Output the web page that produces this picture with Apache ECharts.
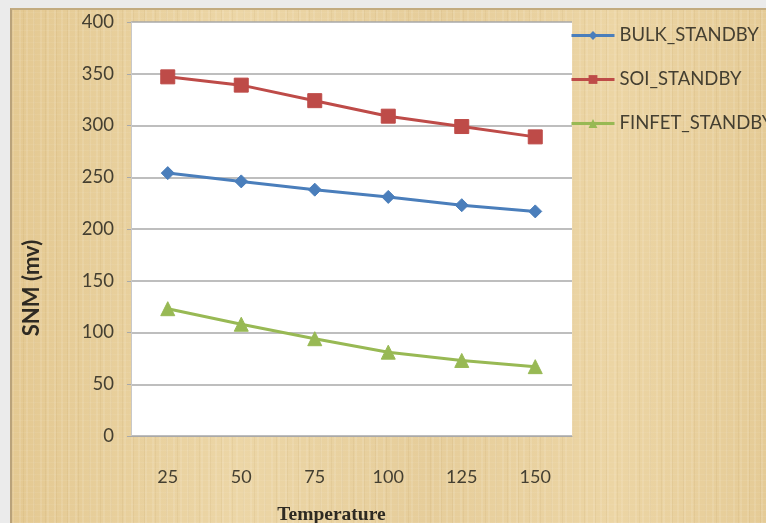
<!DOCTYPE html>
<html>
<head>
<meta charset="utf-8">
<script src="https://cdn.jsdelivr.net/npm/echarts@6/dist/echarts.min.js"></script>
<style>
  html, body { margin: 0; padding: 0; width: 766px; height: 523px; overflow: hidden; background: #ebebeb; }
  #paper {
    position: absolute; left: 10px; top: 8px; width: 756px; height: 515px;
    box-sizing: border-box; border-left: 2px solid #b9a27a; border-top: 2px solid #c2ab80;
    background-color: #e8d09e;
    background-image:
      repeating-linear-gradient(90deg, rgba(255,255,255,0.10) 0px, rgba(255,255,255,0.10) 2px, rgba(0,0,0,0) 2px, rgba(0,0,0,0) 7px),
      repeating-linear-gradient(90deg, rgba(150,110,40,0.07) 0px, rgba(150,110,40,0.07) 1px, rgba(0,0,0,0) 1px, rgba(0,0,0,0) 11px),
      repeating-linear-gradient(0deg, rgba(255,255,255,0.06) 0px, rgba(255,255,255,0.06) 1px, rgba(0,0,0,0) 1px, rgba(0,0,0,0) 6px),
      linear-gradient(90deg, #e4c992 0%, #ecd6a6 30%, #e6cd9a 55%, #ecd5a4 80%, #e5cb96 100%);
  }
  #chart { position: absolute; left: 0; top: 0; width: 766px; height: 523px; }
</style>
</head>
<body>
<div id="paper"></div>
<div id="chart"></div>
<script>
// Static noise margin versus temperature for three SRAM cell technologies
const temperatures = ['25', '50', '75', '100', '125', '150'];
const bulkStandby = [254, 246, 238, 231, 223, 217];
const soiStandby = [347, 339, 324, 309, 299, 289];
const finfetStandby = [123, 108, 94, 81, 73, 67];
const yTicks = { min: 0, max: 400, interval: 50 };

const labelColor = '#443f31';
const gridColor = '#a9a9a9';

const chart = echarts.init(document.getElementById('chart'), null, { renderer: 'canvas' });

function lineSeries(name, data, color, symbol, size) {
  return {
    name: name,
    type: 'line',
    data: data,
    symbol: symbol,
    symbolSize: size,
    showSymbol: true,
    lineStyle: { color: color, width: 3 },
    itemStyle: { color: color, borderColor: color },
    emphasis: { disabled: true },
    animation: false
  };
}

chart.setOption({
  backgroundColor: 'transparent',
  animation: false,
  grid: {
    left: 131, right: 194, top: 22, bottom: 87,
    outerBoundsMode: 'none',
    containLabel: false,
    show: true, backgroundColor: '#ffffff', borderWidth: 0
  },
  legend: {
    orient: 'vertical',
    left: 570, top: 26,
    padding: 0,
    itemWidth: 43, itemHeight: 11, itemGap: 25,
    lineStyle: { width: 3 },
    textStyle: { fontFamily: 'Lato', fontSize: 18.5, color: labelColor },
    data: ['BULK_STANDBY', 'SOI_STANDBY', 'FINFET_STANDBY']
  },
  xAxis: {
    type: 'category',
    data: temperatures,
    boundaryGap: true,
    name: 'Temperature',
    nameLocation: 'middle',
    nameGap: 69,
    nameTextStyle: { fontFamily: 'Liberation Serif', fontWeight: 'bold', fontSize: 19.5, color: '#2e2a22', padding: [0, 40, 0, 0] },
    axisLine: { show: true, lineStyle: { color: gridColor, width: 1 } },
    axisTick: { show: false },
    axisLabel: { fontFamily: 'Lato', fontSize: 18, color: labelColor, margin: 32 },
    splitLine: { show: false }
  },
  yAxis: {
    type: 'value',
    min: yTicks.min, max: yTicks.max, interval: yTicks.interval,
    name: 'SNM (mv)',
    nameLocation: 'middle',
    nameGap: 88,
    nameRotate: 90,
    nameTextStyle: { fontFamily: 'Lato', fontWeight: 'bold', fontSize: 22, color: '#2e2a22', padding: [0, 118, 0, 0] },
    axisLine: { show: true, lineStyle: { color: '#c8c8c8', width: 1 } },
    axisTick: { show: true, inside: false, length: 4, lineStyle: { color: gridColor } },
    axisLabel: { fontFamily: 'Lato', fontSize: 18.5, color: labelColor, margin: 17 },
    splitLine: { show: true, lineStyle: { color: gridColor, width: 1.5 } }
  },
  series: [
    lineSeries('BULK_STANDBY', bulkStandby, '#4a7ebb', 'diamond', 13),
    lineSeries('SOI_STANDBY', soiStandby, '#be4b48', 'rect', 14),
    lineSeries('FINFET_STANDBY', finfetStandby, '#98b954', 'triangle', 14)
  ]
});
</script>
</body>
</html>
